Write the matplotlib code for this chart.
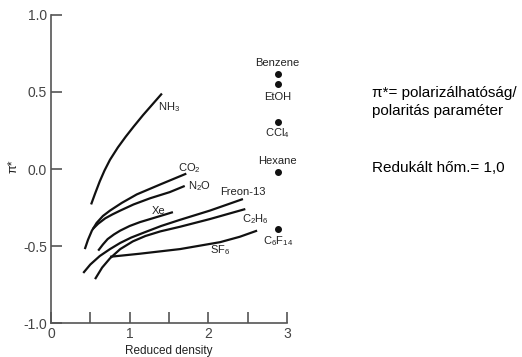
import matplotlib.pyplot as plt
import matplotlib.ticker as mticker

plt.rcParams['font.family'] = ['Liberation Sans', 'DejaVu Sans']
plt.rcParams['mathtext.default'] = 'regular'

### curve data (reduced density, pi*)
nh3_x = [0.51, 0.56, 0.62, 0.68, 0.75, 0.85, 0.95, 1.05, 1.17, 1.29, 1.41]
nh3_y = [-0.23, -0.16, -0.08, -0.01, 0.06, 0.14, 0.21, 0.275, 0.35, 0.42, 0.49]

co2_x = [0.43, 0.47, 0.52, 0.58, 0.66, 0.75, 0.90, 1.09, 1.39, 1.72]
co2_y = [-0.52, -0.46, -0.40, -0.35, -0.305, -0.27, -0.22, -0.165, -0.10, -0.03]

n2o_x = [0.53, 0.60, 0.69, 0.78, 0.88, 1.05, 1.26, 1.51, 1.70]
n2o_y = [-0.39, -0.355, -0.32, -0.295, -0.27, -0.23, -0.19, -0.15, -0.11]

xe_x = [0.60, 0.66, 0.72, 0.80, 0.88, 1.00, 1.13, 1.26, 1.39, 1.55]
xe_y = [-0.53, -0.49, -0.455, -0.425, -0.40, -0.37, -0.345, -0.325, -0.305, -0.28]

freon_x = [0.41, 0.50, 0.62, 0.75, 0.88, 1.02, 1.17, 1.40, 1.64, 2.02, 2.44]
freon_y = [-0.675, -0.62, -0.565, -0.52, -0.48, -0.445, -0.415, -0.37, -0.33, -0.27, -0.195]

c2h6_x = [0.56, 0.65, 0.75, 0.88, 1.04, 1.20, 1.39, 1.64, 2.02, 2.47]
c2h6_y = [-0.715, -0.64, -0.58, -0.52, -0.47, -0.435, -0.405, -0.375, -0.325, -0.26]

sf6_x = [0.75, 1.13, 1.64, 2.15, 2.40, 2.62]
sf6_y = [-0.57, -0.55, -0.52, -0.475, -0.44, -0.40]

### liquid solvents at reduced density ~2.9
liq_names = ['Benzene', 'EtOH', 'CCl$_4$', 'Hexane', 'C$_6$F$_{14}$']
liq_x = [2.88, 2.88, 2.88, 2.88, 2.88]
liq_y = [0.62, 0.55, 0.305, -0.02, -0.39]

### figure
fig = plt.figure(figsize=(5.22, 3.57), dpi=100)
ax = fig.add_axes([0.0977, 0.0952, 0.4521, 0.8628])

lc = '#111111'
for xs, ys in [(nh3_x, nh3_y), (co2_x, co2_y), (n2o_x, n2o_y), (xe_x, xe_y),
               (freon_x, freon_y), (c2h6_x, c2h6_y), (sf6_x, sf6_y)]:
    ax.plot(xs, ys, color=lc, linewidth=1.6, solid_capstyle='butt',
            solid_joinstyle='round')

ax.plot(liq_x, liq_y, 'o', color=lc, markersize=4)

### curve labels
tc = '#222222'
fs = 8
ax.text(1.36, 0.40, 'NH$_3$', fontsize=fs, color=tc, ha='left', va='center')
ax.text(1.62, 0.005, 'CO$_2$', fontsize=fs, color=tc, ha='left', va='center')
ax.text(1.74, -0.11, 'N$_2$O', fontsize=fs, color=tc, ha='left', va='center')
ax.text(1.37, -0.27, 'Xe', fontsize=fs, color=tc, ha='center', va='center')
ax.text(2.44, -0.15, 'Freon-13', fontsize=fs, color=tc, ha='center', va='center')
ax.text(2.60, -0.325, 'C$_2$H$_6$', fontsize=fs, color=tc, ha='center', va='center')
ax.text(2.15, -0.525, 'SF$_6$', fontsize=fs, color=tc, ha='center', va='center')

### liquid labels
liq_lab_y = [0.69, 0.47, 0.23, 0.05, -0.47]
for name, lx, ly in zip(liq_names, liq_x, liq_lab_y):
    ax.text(lx, ly, name, fontsize=fs, color=tc, ha='center', va='center')

### axes styling
ax.set_xlim(0, 3)
ax.set_ylim(-1, 1)
for s in ['top', 'right']:
    ax.spines[s].set_visible(False)
for s in ['left', 'bottom']:
    ax.spines[s].set_color('#555555')
    ax.spines[s].set_linewidth(1.2)

ax.xaxis.set_major_locator(mticker.FixedLocator([0, 1, 2, 3]))
ax.xaxis.set_minor_locator(mticker.FixedLocator([0.5, 1.5, 2.5]))
ax.yaxis.set_major_locator(mticker.FixedLocator([-1.0, -0.5, 0.0, 0.5, 1.0]))
ax.yaxis.set_major_formatter(mticker.FormatStrFormatter('%.1f'))
ax.tick_params(axis='both', which='both', direction='in', length=8, width=1.2,
               color='#555555', labelcolor='#444444', labelsize=10, pad=3)

ax.set_xlabel('Reduced density', fontsize=8.5, color=tc, labelpad=3)
fig.text(14 / 522, 1 - 166 / 357, 'π*', rotation=90, fontsize=9, color=tc,
         ha='center', va='center')

### annotation text on the right
fig.text(372 / 522, 1 - 93 / 357, 'π*= polarizálhatóság/', fontsize=11,
         color='black', ha='left', va='center')
fig.text(372 / 522, 1 - 111 / 357, 'polaritás paraméter', fontsize=11,
         color='black', ha='left', va='center')
fig.text(372 / 522, 1 - 168 / 357, 'Redukált hőm.= 1,0', fontsize=11,
         color='black', ha='left', va='center')

plt.savefig('out.png', dpi=100)
plt.close(fig)
